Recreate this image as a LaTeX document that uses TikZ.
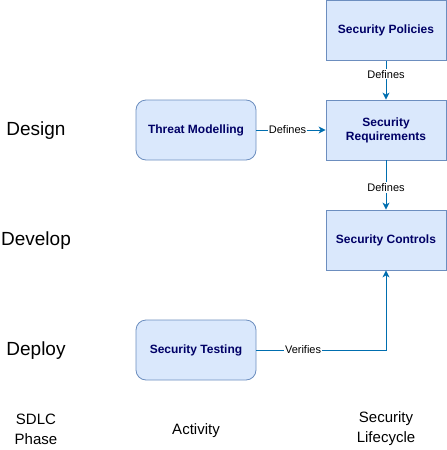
\documentclass[tikz,border=0pt]{standalone}
\usepackage{fontspec}
\setmainfont{Liberation Sans}
\usetikzlibrary{arrows.meta}
\definecolor{boxfill}{HTML}{DAE8FC}
\definecolor{boxline}{HTML}{6C8EBF}
\definecolor{boxtext}{HTML}{000066}
\definecolor{flow}{HTML}{006EAF}
\begin{document}
\begin{tikzpicture}[x=1pt,y=-1pt,
	block/.style={draw=boxline,fill=boxfill,line width=0.8pt,minimum width=120pt,minimum height=60pt,inner sep=2pt,align=center,text=boxtext,font=\fontsize{12}{14}\selectfont\bfseries},
	activity/.style={block,rounded corners=10pt},
	phase/.style={font=\fontsize{19}{22}\selectfont},
	caption/.style={font=\fontsize{15}{20}\selectfont,align=center},
	link/.style={draw=flow,line width=1pt,-{Stealth[length=7pt,width=7pt,inset=2pt]}},
	tag/.style={fill=white,inner sep=1pt,font=\fontsize{11}{13}\selectfont}]
	\useasboundingbox (0,0) rectangle (447,450);
	% phases
	\node[phase] (design) at (36,131) {Design};
	\node[phase] (develop) at (36,241) {Develop};
	\node[phase] (deploy) at (36,351) {Deploy};
	% boxes
	\node[activity] (threat) at (196,130) {Threat Modelling};
	\node[activity] (testing) at (196,350) {Security Testing};
	\node[block] (policies) at (386,30.5) {Security Policies};
	\node[block] (requirements) at (386,130) {Security\\Requirements};
	\node[block] (controls) at (386,240) {Security Controls};
	% links
	\draw[link] (policies) -- node[tag,pos=0.35]{Defines} (requirements);
	\draw[link] (requirements) -- node[tag,pos=0.55]{Defines} (controls);
	\draw[link] (threat) -- node[tag,pos=0.45]{Defines} (requirements);
	\draw[link] (testing) -| node[tag,pos=0.18]{Verifies} (controls);
	% captions
	\node[caption] (sdlc) at (36,429) {SDLC\\Phase};
	\node[caption] (act) at (196,431) {Activity};
	\node[caption] (life) at (386,429) {Security\\Lifecycle};
\end{tikzpicture}
\end{document}
